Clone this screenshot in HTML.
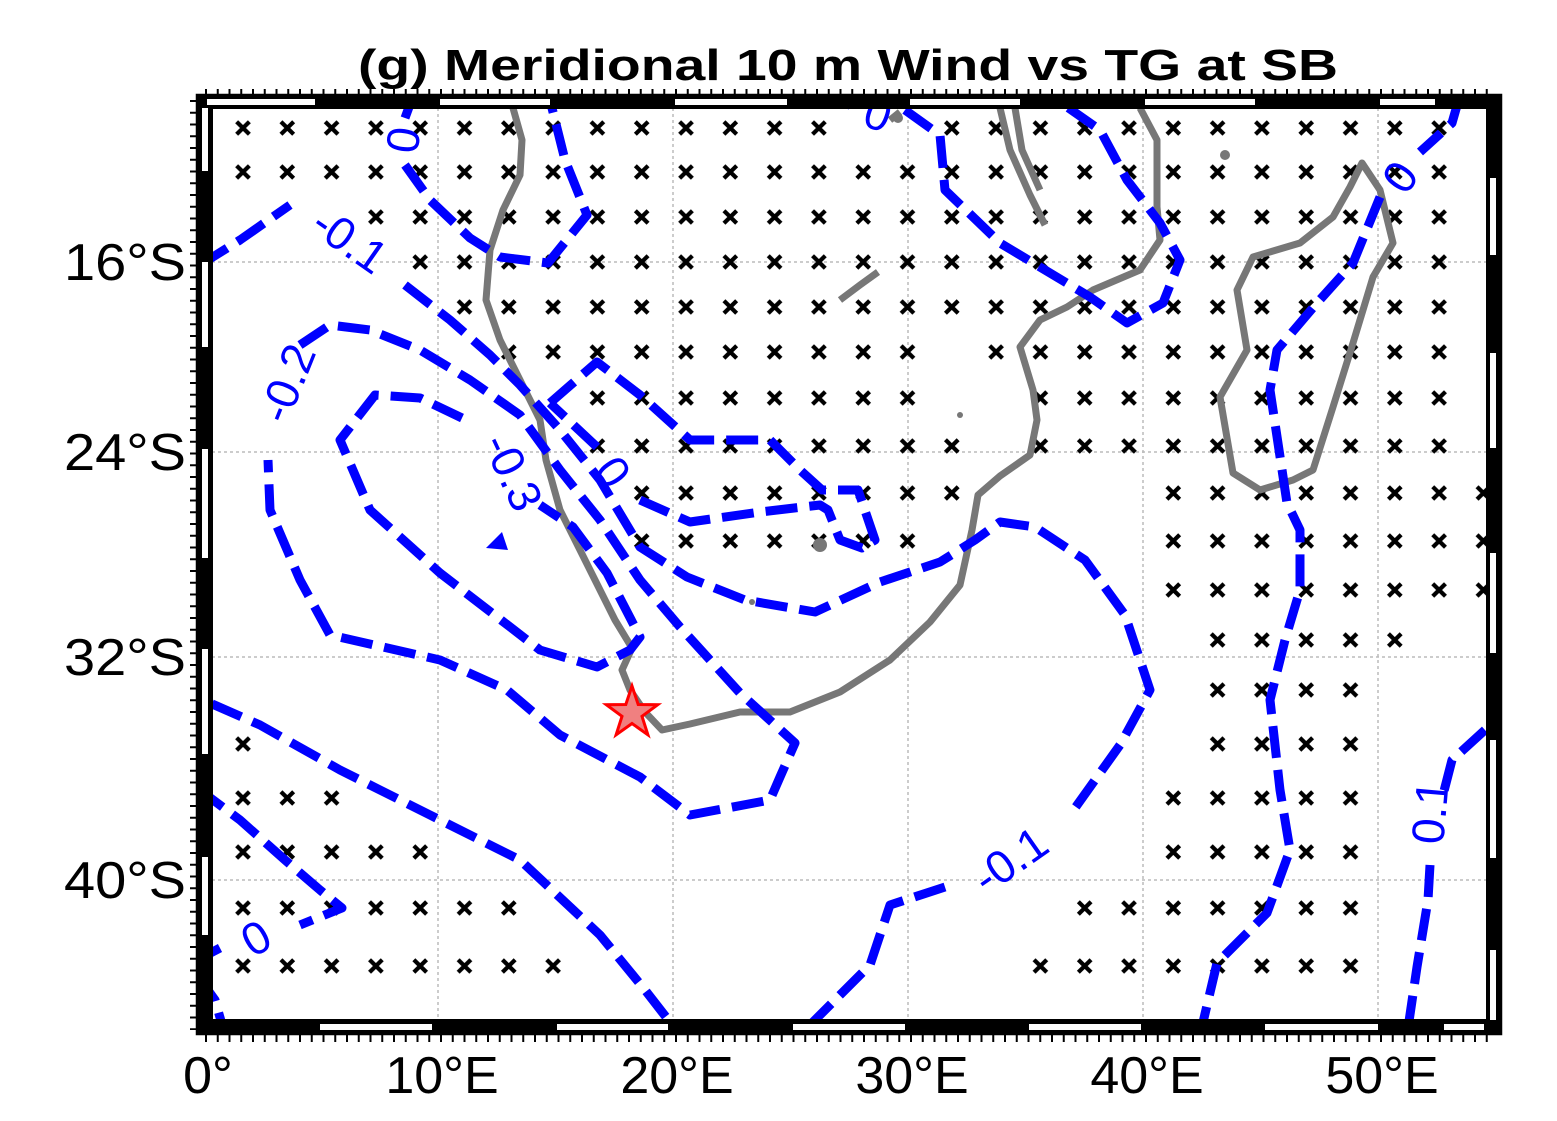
<!DOCTYPE html>
<html><head><meta charset="utf-8"><style>html,body{margin:0;padding:0;background:#fff}svg{display:block}</style></head>
<body>
<svg width="1557" height="1121" viewBox="0 0 1557 1121" xmlns="http://www.w3.org/2000/svg" font-family="'Liberation Sans', Arial, sans-serif">
<defs>
<pattern id="xp" patternUnits="userSpaceOnUse" x="220.85" y="-10" width="44.3" height="20">
<path d="M15.8,3.8 L28.5,16.2 M28.5,3.8 L15.8,16.2" stroke="#000" stroke-width="4.2"/>
</pattern>
<clipPath id="clip"><rect x="212" y="108" width="1275" height="912"/></clipPath>
</defs>
<rect width="1557" height="1121" fill="#fff"/>
<text x="848" y="80" font-size="44" font-weight="bold" text-anchor="middle" textLength="980" lengthAdjust="spacingAndGlyphs">(g) Meridional 10 m Wind vs TG at SB</text>

<g clip-path="url(#clip)">
<g stroke="#bbb" stroke-width="1.5" stroke-dasharray="3 3">
<line x1="438" y1="108" x2="438" y2="1020"/><line x1="673" y1="108" x2="673" y2="1020"/><line x1="908" y1="108" x2="908" y2="1020"/><line x1="1143" y1="108" x2="1143" y2="1020"/><line x1="1378" y1="108" x2="1378" y2="1020"/>
<line x1="212" y1="262" x2="1487" y2="262"/><line x1="212" y1="452" x2="1487" y2="452"/><line x1="212" y1="657" x2="1487" y2="657"/><line x1="212" y1="880" x2="1487" y2="880"/>
</g>
<g fill="url(#xp)">
<g transform="translate(0,128)"><rect x="220.85" y="-10" width="620.2" height="20"/><rect x="929.7" y="-10" width="531.6" height="20"/></g>
<g transform="translate(0,172)"><rect x="220.85" y="-10" width="1240.4" height="20"/></g>
<g transform="translate(0,217)"><rect x="353.75" y="-10" width="1107.5" height="20"/></g>
<g transform="translate(0,262)"><rect x="398.05" y="-10" width="1063.2" height="20"/></g>
<g transform="translate(0,307)"><rect x="442.35" y="-10" width="1018.9" height="20"/></g>
<g transform="translate(0,352)"><rect x="486.65" y="-10" width="443" height="20"/><rect x="974" y="-10" width="487.3" height="20"/></g>
<g transform="translate(0,398)"><rect x="575.25" y="-10" width="354.4" height="20"/><rect x="1018.3" y="-10" width="443" height="20"/></g>
<g transform="translate(0,446)"><rect x="575.25" y="-10" width="398.7" height="20"/><rect x="1018.3" y="-10" width="443" height="20"/></g>
<g transform="translate(0,493)"><rect x="619.55" y="-10" width="354.4" height="20"/><rect x="1151.2" y="-10" width="354.4" height="20"/></g>
<g transform="translate(0,541)"><rect x="619.55" y="-10" width="310.1" height="20"/><rect x="1151.2" y="-10" width="354.4" height="20"/></g>
<g transform="translate(0,590)"><rect x="1151.2" y="-10" width="354.4" height="20"/></g>
<g transform="translate(0,640)"><rect x="1195.5" y="-10" width="221.5" height="20"/></g>
<g transform="translate(0,690)"><rect x="1195.5" y="-10" width="177.2" height="20"/></g>
<g transform="translate(0,744)"><rect x="220.85" y="-10" width="44.3" height="20"/><rect x="1195.5" y="-10" width="177.2" height="20"/></g>
<g transform="translate(0,798)"><rect x="220.85" y="-10" width="132.9" height="20"/><rect x="1151.2" y="-10" width="221.5" height="20"/></g>
<g transform="translate(0,852)"><rect x="220.85" y="-10" width="221.5" height="20"/><rect x="1151.2" y="-10" width="221.5" height="20"/></g>
<g transform="translate(0,908)"><rect x="220.85" y="-10" width="310.1" height="20"/><rect x="1062.6" y="-10" width="310.1" height="20"/></g>
<g transform="translate(0,966)"><rect x="220.85" y="-10" width="354.4" height="20"/><rect x="1018.3" y="-10" width="354.4" height="20"/></g>
</g>

<g fill="none" stroke="#777" stroke-width="7" stroke-linejoin="round">
<path d="M513,108 L522,140 L520,175 L503,210 L490,250 L486,300 L500,340 L520,380 L540,420 L546,460 L560,510 L580,550 L600,590 L615,620 L632,648 L622,670 L630,690 L645,712 L662,730 L690,724 L740,712 L790,712 L840,692 L890,660 L930,622 L960,585 L972,530 L978,495 L1000,476 L1030,455 L1037,420 L1033,390 L1020,347 L1040,320 L1067,307 L1093,290 L1140,270 L1160,240 L1157,207 L1157,140 L1140,108"/>
<path d="M1000,108 L1010,150 L1030,195 L1045,225 M1015,108 L1022,150 L1040,190"/>
<path d="M1362,163 L1380,190 L1393,243 L1373,277 L1353,343 L1333,407 L1313,470 L1293,480 L1260,490 L1233,473 L1220,397 L1247,350 L1237,290 L1253,257 L1300,243 L1333,217 L1350,187 Z"/>
<path d="M840,300 L860,285 L878,272 M890,120 L900,112"/>
</g>
<g fill="#777"><circle cx="1225" cy="155" r="5"/><circle cx="820" cy="545" r="7"/><circle cx="898" cy="118" r="5"/><circle cx="960" cy="415" r="3"/><circle cx="752" cy="602" r="3"/></g>

<g fill="none" stroke="#0000ff" stroke-width="9" stroke-dasharray="32 12" stroke-linejoin="round">
<path d="M413,96 L405,118"/>
<path d="M405,165 L430,200 L470,238 L500,257 L548,263 L587,215 L565,160 L550,100"/>
<path d="M200,265 L240,240 L290,205"/>
<path d="M405,285 L450,320 L490,355 L520,385 L560,430 L600,480 L640,547 L687,577 L745,600 L815,612 L880,582 L940,562 L975,540 L1000,522 L1035,527 L1085,560 L1125,615 L1150,690 L1120,745 L1070,815"/>
<path d="M945,887 L890,905 L870,965 L800,1035"/>
<path d="M197,622 L203,700 L260,725 L340,770 L430,815 L520,860 L600,935 L645,990 L680,1035"/>
<path d="M300,345 L330,325 L370,330 L420,350 L470,380 L520,415 L560,470 L600,520 L640,580 L680,627 L740,693 L795,743 L780,777 L770,800 L690,815 L640,777 L560,735 L507,690 L440,660 L330,635 L300,580 L270,510 L268,460"/>
<path d="M462,418 L420,398 L375,395 L340,440 L370,510 L440,573 L540,650 L597,667 L630,650 L640,637 L607,573 L573,527 L540,505"/>
<path d="M550,403 L597,362 L640,395 L690,440 L770,440 L800,470 L822,490 L858,490 L875,540 L862,548 L840,540 L828,510 L820,505 L760,512 L690,522 L640,500"/>
<path d="M597,447 L550,403"/>
<path d="M820,97 L850,105"/>
<path d="M905,110 L940,135 L945,190 L1000,243 L1090,297 L1127,323 L1163,303 L1180,260 L1160,223 L1127,180 L1100,130 L1050,95"/>
<path d="M1460,95 L1452,123 L1420,152"/>
<path d="M1380,197 L1353,263 L1317,303 L1277,350 L1270,390 L1287,503 L1300,530 L1300,590 L1285,640 L1270,700 L1280,790 L1290,850 L1267,913 L1217,963 L1200,1035"/>
<path d="M1262,95 L1268,102"/>
<path d="M1485,730 L1452,760 L1443,795"/>
<path d="M1430,865 L1428,900 L1417,967 L1407,1035"/>
<path d="M197,788 L240,820 L285,860 L320,890 L342,908 L300,925"/>
<path d="M220,948 L197,960"/>
<path d="M197,975 L215,1000 L225,1035"/>
</g>
<path d="M486,548 L502,532 L508,550 Z" fill="#0000ff"/>
<g fill="#0000ff" font-size="46" text-anchor="middle">
<text transform="translate(403,140) rotate(-82)" y="16">0</text>
<text transform="translate(350,240) rotate(35)" y="16">-0.1</text>
<text transform="translate(287,383) rotate(-68)" y="16">-0.2</text>
<text transform="translate(513,472) rotate(65)" y="16">-0.3</text>
<text transform="translate(613,472) rotate(55)" y="16">0</text>
<text transform="translate(878,114) rotate(20)" y="16">0</text>
<text transform="translate(1400,177) rotate(-55)" y="16">0</text>
<text transform="translate(1010,860) rotate(-35)" y="16">-0.1</text>
<text transform="translate(1430,812) rotate(-85)" y="16">0.1</text>
<text transform="translate(256,938) rotate(-30)" y="16">0</text>
</g>
<polygon transform="translate(632,713)" points="0,-27 6.2,-8.5 25.7,-8.3 10,3.3 15.9,21.8 0,10.5 -15.9,21.8 -10,3.3 -25.7,-8.3 -6.2,-8.5" fill="#f08080" stroke="#ff0000" stroke-width="3"/>
</g>

<rect x="198" y="96" width="1302" height="11" fill="#000"/>
<rect x="198" y="1021" width="1302" height="12" fill="#000"/>
<rect x="198" y="96" width="14" height="937" fill="#000"/>
<rect x="1486" y="96" width="14" height="937" fill="#000"/>
<g fill="#fff">
<rect x="207" y="99" width="108" height="6"/><rect x="440" y="99" width="110" height="6"/><rect x="675" y="99" width="112" height="6"/><rect x="910" y="99" width="110" height="6"/><rect x="1145" y="99" width="110" height="6"/><rect x="1380" y="99" width="55" height="6"/>
<rect x="320" y="1024" width="112" height="6"/><rect x="557" y="1024" width="111" height="6"/><rect x="793" y="1024" width="112" height="6"/><rect x="1029" y="1024" width="112" height="6"/><rect x="1265" y="1024" width="113" height="6"/><rect x="1444" y="1024" width="40" height="6"/>
<rect x="202" y="108" width="6" height="63"/><rect x="202" y="262" width="6" height="85"/><rect x="202" y="449" width="6" height="109"/><rect x="202" y="649" width="6" height="105"/><rect x="202" y="857" width="6" height="78"/>
<rect x="1490" y="178" width="6" height="77"/><rect x="1490" y="353" width="6" height="95"/><rect x="1490" y="553" width="6" height="100"/><rect x="1490" y="740" width="6" height="118"/><rect x="1490" y="950" width="6" height="70"/>
</g>
<rect x="197" y="95" width="1304" height="939" fill="none" stroke="#000" stroke-width="2.5"/>
<rect x="212" y="108" width="1275" height="912" fill="none" stroke="#000" stroke-width="2"/>
<g stroke="#000" stroke-width="2" stroke-dasharray="2 9.75">
<line x1="205" y1="1038" x2="1490" y2="1038" stroke-width="8"/>
<line x1="205" y1="92" x2="1490" y2="92" stroke-width="6"/>
<line x1="193" y1="100" x2="193" y2="1030" stroke-width="6"/>
</g>
<g font-size="52" fill="#000">
<g text-anchor="middle">
<text x="208" y="1093">0°</text><text x="442" y="1093">10°E</text><text x="677" y="1093">20°E</text><text x="912" y="1093">30°E</text><text x="1147" y="1093">40°E</text><text x="1382" y="1093">50°E</text>
</g>
<g text-anchor="end">
<text x="186" y="280" textLength="122" lengthAdjust="spacingAndGlyphs">16°S</text><text x="186" y="470" textLength="122" lengthAdjust="spacingAndGlyphs">24°S</text><text x="186" y="675" textLength="122" lengthAdjust="spacingAndGlyphs">32°S</text><text x="186" y="898" textLength="122" lengthAdjust="spacingAndGlyphs">40°S</text>
</g>
</g>
</svg>
</body></html>
